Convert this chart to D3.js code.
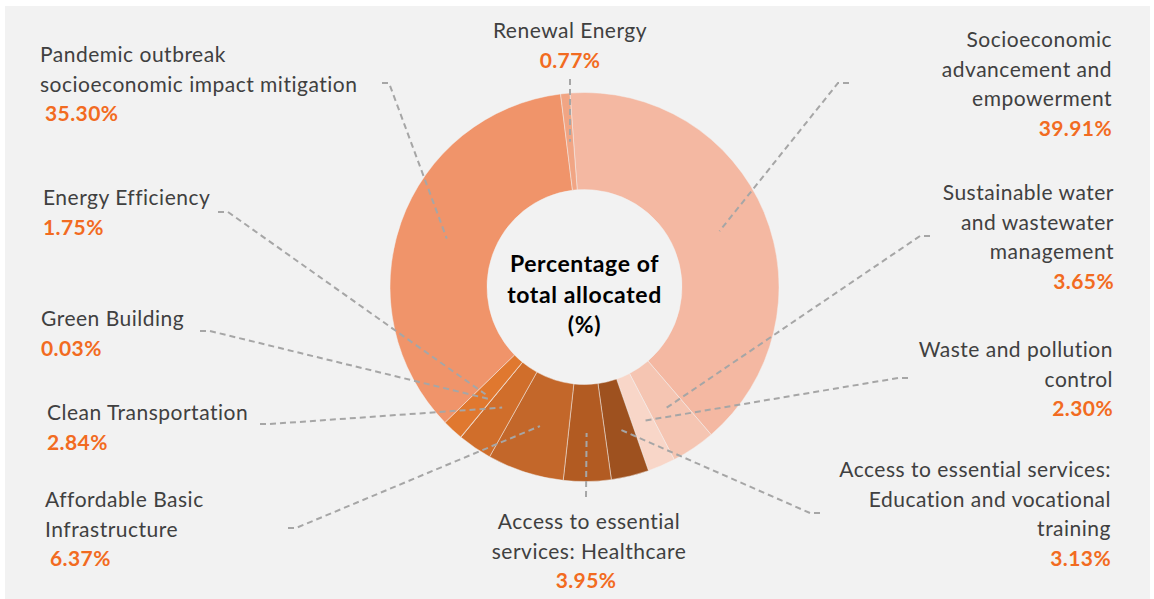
<!DOCTYPE html>
<html>
  <head>
    <meta charset="utf-8">
    <title>Percentage of total allocated</title>
    <style>
      body {
        margin: 0;
        background-color: white;
      }
      .lbl {
        fill: #404040;
        font: 21px Lato, sans-serif;
        letter-spacing: 0.5px;
      }
      .pct {
        fill: #F26B21;
        font: bold 21px Lato, sans-serif;
        letter-spacing: 0.4px;
      }
      .title {
        fill: #000;
        font: bold 23px Lato, sans-serif;
        letter-spacing: 0.6px;
        text-anchor: middle;
      }
      .leader {
        fill: none;
        stroke: #A6A6A6;
        stroke-width: 2;
        stroke-dasharray: 6,4;
      }
    </style>
  </head>
  <body>
  <svg id="chart"></svg>
  <script src="https://d3js.org/d3.v7.min.js"></script>
  <script>

  // data, clockwise from the top of the ring
  var categories = [
    "Socioeconomic advancement and empowerment",
    "Sustainable water and wastewater management",
    "Waste and pollution control",
    "Access to essential services: Education and vocational training",
    "Access to essential services: Healthcare",
    "Affordable Basic Infrastructure",
    "Clean Transportation",
    "Green Building",
    "Energy Efficiency",
    "Pandemic outbreak socioeconomic impact mitigation",
    "Renewal Energy"
  ];
  var values = [39.91, 3.65, 2.30, 3.13, 3.95, 6.37, 2.84, 0.03, 1.75, 35.30, 0.77];
  var valueLabels = ["39.91%", "3.65%", "2.30%", "3.13%", "3.95%", "6.37%", "2.84%", "0.03%", "1.75%", "35.30%", "0.77%"];
  // how each category name is wrapped on the chart
  var labelLines = [
    ["Socioeconomic", "advancement and", "empowerment"],
    ["Sustainable water", "and wastewater", "management"],
    ["Waste and pollution", "control"],
    ["Access to essential services:", "Education and vocational", "training"],
    ["Access to essential", "services: Healthcare"],
    ["Affordable Basic", "Infrastructure"],
    ["Clean Transportation"],
    ["Green Building"],
    ["Energy Efficiency"],
    ["Pandemic outbreak", "socioeconomic impact mitigation"],
    ["Renewal Energy"]
  ];
  var colors = ["#F4B8A2", "#F5C5B2", "#F8D6C8", "#9E511F", "#B25B22", "#C3672A",
                "#D06E2B", "#D97330", "#E0782F", "#F0946A", "#F1A584"];
  var titleLines = ["Percentage of", "total allocated", "(%)"];

  // label placement: x, first baseline, anchor, pct x shift, leader start / elbow
  var layout = [
    {x: 1112, y: 47,  anchor: "end",    dx: 0, lx: 849, ly: 83,  ex: 838, ey: 83},
    {x: 1114, y: 200, anchor: "end",    dx: 0, lx: 930, ly: 236, ex: 920, ey: 236},
    {x: 1113, y: 357, anchor: "end",    dx: 0, lx: 908, ly: 378, ex: 898, ey: 378},
    {x: 1111, y: 477, anchor: "end",    dx: 0, lx: 820, ly: 513, ex: 810, ey: 513},
    {x: 589,  y: 529, anchor: "middle", dx: -3, lx: 586, ly: 497, ex: 586, ey: 497},
    {x: 45,   y: 507, anchor: "start",  dx: 5, lx: 288, ly: 528, ex: 296, ey: 528},
    {x: 47,   y: 420, anchor: "start",  dx: 0, lx: 260, ly: 424, ex: 270, ey: 424},
    {x: 41,   y: 326, anchor: "start",  dx: 0, lx: 200, ly: 331, ex: 210, ey: 331},
    {x: 43,   y: 205, anchor: "start",  dx: 0, lx: 218, ly: 212, ex: 228, ey: 212},
    {x: 40,   y: 62,  anchor: "start",  dx: 5, lx: 382, ly: 83,  ex: 389, ey: 83},
    {x: 570,  y: 38,  anchor: "middle", dx: 0, lx: 570, ly: 79,  ex: 570, ey: 79}
  ];

  var width = 1154, height = 599;
  var cx = 584.5, cy = 287;
  var outerR = 194.5, innerR = 97.5;
  var lineH = 29.5;
  var startOffset = -4.3 * Math.PI / 180;

  var svg = d3.select("#chart")
    .attr("width", width)
    .attr("height", height);

  svg.append("rect")
    .attr("x", 5)
    .attr("y", 6)
    .attr("width", 1145)
    .attr("height", 600)
    .attr("fill", "#F2F2F2");

  var rows = categories.map(function(c, i) {
    return {name: c, value: values[i], label: valueLabels[i], lines: labelLines[i], color: colors[i], pos: layout[i]};
  });

  var pie = d3.pie()
    .sort(null)
    .value(function(d) { return d.value; })
    .startAngle(startOffset)
    .endAngle(startOffset + 2 * Math.PI);

  var arc = d3.arc()
    .innerRadius(innerR)
    .outerRadius(outerR);

  var arcs = pie(rows);

  var g = svg.append("g")
    .attr("transform", "translate(" + cx + "," + cy + ")");

  g.selectAll("path.slice")
    .data(arcs)
    .enter().append("path")
    .attr("class", "slice")
    .attr("d", arc)
    .attr("fill", function(d) { return d.data.color; })
    .attr("stroke", "#F2F2F2")
    .attr("stroke-opacity", 0.6)
    .attr("stroke-width", 0.8);

  // leader lines: label side -> short elbow -> slice centroid
  svg.selectAll("path.leader")
    .data(arcs)
    .enter().append("path")
    .attr("class", "leader")
    .attr("d", function(d) {
      var p = d.data.pos;
      var c = arc.centroid(d);
      return d3.line()([[p.lx, p.ly], [p.ex, p.ey], [c[0] + cx, c[1] + cy]]);
    });

  // category labels
  var labels = svg.selectAll("g.label")
    .data(rows)
    .enter().append("g")
    .attr("class", "label");

  labels.each(function(d) {
    var el = d3.select(this);
    d.lines.forEach(function(t, k) {
      el.append("text")
        .attr("class", "lbl")
        .attr("x", d.pos.x)
        .attr("y", d.pos.y + k * lineH)
        .attr("text-anchor", d.pos.anchor)
        .text(t);
    });
    el.append("text")
      .attr("class", "pct")
      .attr("x", d.pos.x + d.pos.dx)
      .attr("y", d.pos.y + d.lines.length * lineH)
      .attr("text-anchor", d.pos.anchor)
      .text(d.label);
  });

  // centre title
  svg.selectAll("text.title")
    .data(titleLines)
    .enter().append("text")
    .attr("class", "title")
    .attr("x", cx)
    .attr("y", function(d, i) { return 272 + i * 30.5; })
    .text(function(d) { return d; });

  </script>
  </body>
</html>
